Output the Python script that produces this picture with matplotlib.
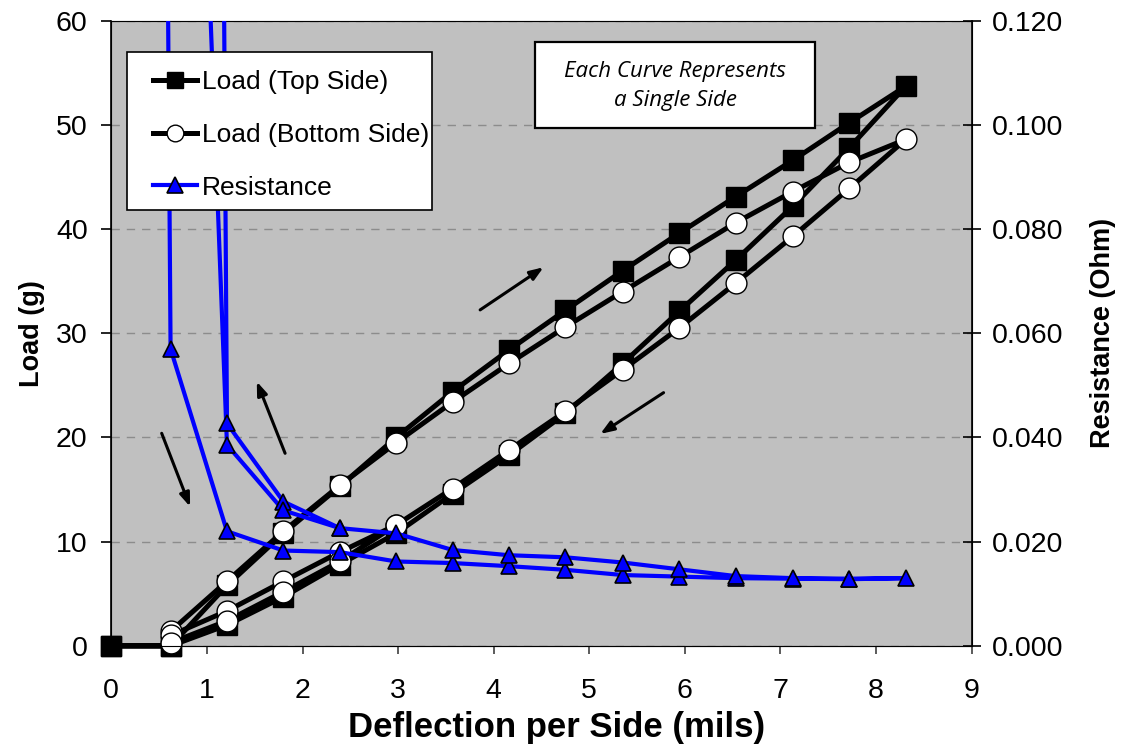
import numpy as np
import matplotlib
matplotlib.use("Agg")
import matplotlib.pyplot as plt
from matplotlib.lines import Line2D
from matplotlib.patches import Rectangle

plt.rcParams['font.family'] = ['Liberation Sans', 'DejaVu Sans']

# ---- data ----
defl = [0, 0.62, 1.21, 1.80, 2.39, 2.98, 3.57, 4.16, 4.75, 5.35, 5.94, 6.53, 7.13, 7.72, 8.31]

# Top side (squares): loading then unloading (unloading listed from 7.72 back to 0)
top_load = [0, 0, 5.8, 10.8, 15.3, 20.0, 24.4, 28.4, 32.2, 36.0, 39.6, 43.1, 46.6, 50.2, 53.7]
top_unload = [47.8, 42.2, 37.0, 32.1, 27.1, 22.3, 18.3, 14.6, 10.8, 7.8, 4.7, 2.0, 0, 0]

# Bottom side (circles): loading from 0.62, unloading, and a second low-deflection branch
bot_load = [1.4, 6.2, 11.0, 15.4, 19.5, 23.4, 27.1, 30.6, 34.0, 37.3, 40.6, 43.6, 46.4, 48.6]
bot_unload = [43.9, 39.3, 34.8, 30.5, 26.5, 22.5, 18.8, 15.1, 11.6, 9.0, 6.2, 3.35, 1.0]
bot_extra_x = [2.98, 2.39, 1.80, 1.21, 0.62]
bot_extra = [11.6, 8.1, 5.2, 2.4, 0.3]

# Resistance (Ohm)
res_load = [1.6, 0.057, 0.022, 0.0183, 0.018, 0.0162, 0.0159, 0.0153, 0.0146, 0.0136,
            0.0133, 0.0130, 0.0129, 0.0128, 0.0130]
res_unload = [0.0129, 0.0130, 0.0134, 0.0147, 0.0160, 0.0170, 0.0174, 0.0184, 0.0216,
              0.0226, 0.0277, 0.0427, 1.6]
res_extra_x = [2.39, 1.80, 1.21, 0.62]
res_extra = [0.0226, 0.0260, 0.0386, 0.32]

# ---- build full paths ----
back_x = defl[-2::-1]  # 7.72 ... 0
top_x = defl + back_x
top_y = top_load + top_unload
bot_x = defl[1:] + back_x[:len(bot_unload)] + [np.nan] + bot_extra_x
bot_y = bot_load + bot_unload + [np.nan] + bot_extra
res_x = defl + back_x[:len(res_unload)] + [np.nan] + res_extra_x
res_y = res_load + res_unload + [np.nan] + res_extra

W, H = 1123, 748
fig = plt.figure(figsize=(W / 100, H / 100), dpi=100)
ax1 = fig.add_axes([111.3 / W, 1 - 645.9 / H, 860.4 / W, 625.3 / H])
ax1.set_facecolor('#C0C0C0')

ax1.plot(top_x, top_y, color='black', lw=3.6, marker='s', ms=14,
         mfc='black', mec='black', zorder=3, clip_on=False)
ax1.plot(bot_x, bot_y, color='black', lw=3.6, marker='o', ms=15,
         mfc='white', mec='black', mew=1.0, zorder=4, clip_on=False)

ax1.set_xlim(0, 9)
ax1.set_ylim(0, 60)
ax1.set_xticks(range(0, 10))
ax1.set_yticks(range(0, 61, 10))
ax1.yaxis.grid(True, color='#8c8c8c', ls=(0, (6, 5)), lw=1.0)
ax1.set_axisbelow(True)
ax1.tick_params(axis='both', labelsize=20.5, direction='out', width=1.2, color='black')
ax1.tick_params(axis='x', length=6, pad=17, colors='#404040', labelcolor='black')
ax1.tick_params(axis='y', length=7, pad=10)
ax1.spines['top'].set_color('#808080')
ax1.spines['bottom'].set_color('#404040')
ax1.spines['left'].set_color('black')
ax1.spines['left'].set_linewidth(1.2)
ax1.set_xlabel('Deflection per Side (mils)', fontsize=25, fontweight='bold')
ax1.xaxis.set_label_coords(0.517, -0.131, transform=ax1.transAxes)
ax1.xaxis.label.set_verticalalignment('center')
ax1.set_ylabel('Load (g)', fontsize=19.5, fontweight='bold', labelpad=8)

ax2 = ax1.twinx()
ax2.plot(res_x, res_y, color='#0000FF', lw=3.0, marker='^', ms=12,
         mfc='#0000FF', mec='black', mew=1.2, zorder=5)
ax2.set_ylim(0, 0.12)
ax2.set_yticks(np.arange(0, 0.1201, 0.02))
ax2.set_yticklabels(['%.3f' % v for v in np.arange(0, 0.1201, 0.02)])
ax2.tick_params(axis='y', labelsize=20.5, direction='inout', length=13, width=1.2, pad=8)
ax2.spines['right'].set_color('black')
ax2.spines['right'].set_linewidth(1.2)
ax2.set_ylabel('Resistance (Ohm)', fontsize=19.5, fontweight='bold', labelpad=19)

# arrows (data coords of load axis)
arrows = [((0.527, 20.4), (0.824, 13.36)),
          ((1.818, 18.48), (1.522, 25.36)),
          ((3.858, 32.24), (4.521, 36.33)),
          ((5.777, 24.3), (5.115, 20.34))]
for start, end in arrows:
    ax2.annotate('', xy=end, xytext=start, xycoords=ax1.transData, textcoords=ax1.transData,
                 arrowprops=dict(arrowstyle='-|>,head_length=0.8,head_width=0.3',
                                 color='black', lw=2.2, shrinkA=0, shrinkB=0), zorder=6)

# legend frame (drawn separately so text may touch the border as in the original)
ax2.add_patch(Rectangle((0.01825, 0.6971), 0.3545, 0.2527, transform=ax1.transAxes,
                        fc='white', ec='black', lw=1.2, zorder=9, clip_on=False))
handles = [
    Line2D([], [], color='black', lw=3.6, marker='s', ms=11.5, mfc='black', mec='black'),
    Line2D([], [], color='black', lw=3.6, marker='o', ms=12, mfc='white', mec='black', mew=1.0),
    Line2D([], [], color='#0000FF', lw=3.0, marker='^', ms=11.5, mfc='#0000FF', mec='black', mew=1.2),
]
labels = ['Load (Top Side)', 'Load (Bottom Side)', 'Resistance']
leg = ax2.legend(handles, labels, loc='upper left', bbox_to_anchor=(0.0485, 0.921),
                 fontsize=19, frameon=False, numpoints=1, handlelength=1.66,
                 handletextpad=0.2, labelspacing=1.09, borderpad=0, borderaxespad=0)
leg.set_zorder(10)

# annotation box
ax2.add_patch(Rectangle((0.4924, 0.8282), 0.3254, 0.1375, transform=ax1.transAxes,
                        fc='white', ec='black', lw=1.6, zorder=9, clip_on=False))
ax2.text(0.6552, 0.895, 'Each Curve Represents\na Single Side', transform=ax1.transAxes,
         ha='center', va='center', fontsize=16, style='italic', family='Open Sans',
         linespacing=1.5, zorder=10)

fig.savefig('out.png', dpi=100)
